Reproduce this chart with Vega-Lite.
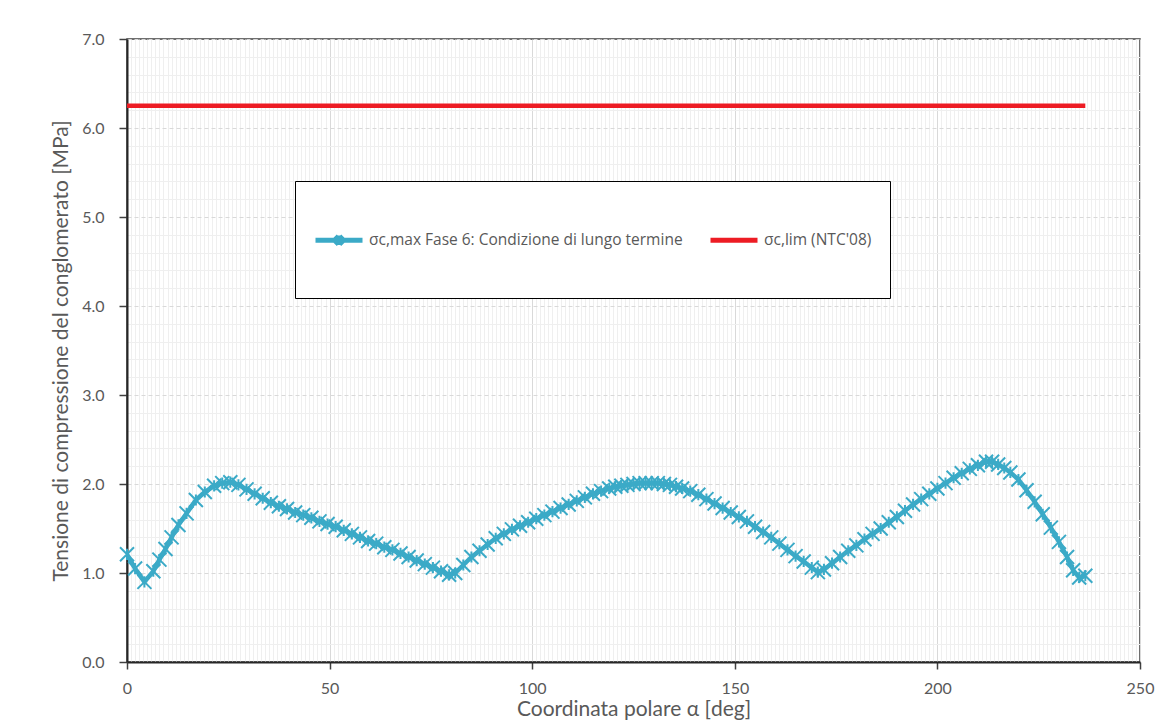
{
  "$schema": "https://vega.github.io/schema/vega-lite/v6.json",
  "width": 1013,
  "height": 623,
  "autosize": {"type": "none"},
  "padding": {"left": 127, "top": 39, "right": 25, "bottom": 62},
  "background": "#ffffff",
  "config": {"view": {"stroke": "#404040", "strokeWidth": 1.5}, "font": "Lato"},
  "datasets": {
    "sigma": [
      {"a":0,"s":1.21},{"a":2,"s":1.05},{"a":4.3,"s":0.9},{"a":6.5,"s":1.02},{"a":8,"s":1.15},{"a":9.5,"s":1.27},{"a":11,"s":1.4},{"a":12.7,"s":1.54},{"a":14.7,"s":1.67},{"a":17,"s":1.82},{"a":19.2,"s":1.91},{"a":21.5,"s":1.98},{"a":23.5,"s":2.01},{"a":25.5,"s":2.02},{"a":27.5,"s":1.99},{"a":29.5,"s":1.94},{"a":31.5,"s":1.89},{"a":33.5,"s":1.84},{"a":35.5,"s":1.79},{"a":37.5,"s":1.75},{"a":39.5,"s":1.72},{"a":41.5,"s":1.68},{"a":43.5,"s":1.65},{"a":45.5,"s":1.62},{"a":47.5,"s":1.58},{"a":49.5,"s":1.55},{"a":51.5,"s":1.52},{"a":53.5,"s":1.48},{"a":55.5,"s":1.44},{"a":57.5,"s":1.4},{"a":59.5,"s":1.36},{"a":61.5,"s":1.33},{"a":63.5,"s":1.29},{"a":65.5,"s":1.26},{"a":67.5,"s":1.22},{"a":69.5,"s":1.18},{"a":71.5,"s":1.14},{"a":73.5,"s":1.1},{"a":75.5,"s":1.06},{"a":77.5,"s":1.02},{"a":79.5,"s":0.98},{"a":81,"s":1.0},{"a":83,"s":1.09},{"a":85,"s":1.18},{"a":87,"s":1.25},{"a":89,"s":1.32},{"a":91,"s":1.39},{"a":93,"s":1.44},{"a":95,"s":1.49},{"a":97,"s":1.53},{"a":99,"s":1.57},{"a":101,"s":1.61},{"a":103,"s":1.65},{"a":105,"s":1.69},{"a":107,"s":1.73},{"a":109,"s":1.77},{"a":111,"s":1.81},{"a":113,"s":1.85},{"a":115,"s":1.89},{"a":117,"s":1.92},{"a":119,"s":1.95},{"a":120.5,"s":1.97},{"a":122,"s":1.98},{"a":123.5,"s":1.99},{"a":125,"s":2.0},{"a":126.5,"s":2.01},{"a":128,"s":2.01},{"a":129.5,"s":2.01},{"a":131,"s":2.01},{"a":132.5,"s":2.0},{"a":134,"s":1.99},{"a":135.5,"s":1.97},{"a":137,"s":1.95},{"a":139,"s":1.92},{"a":141,"s":1.88},{"a":143,"s":1.83},{"a":145,"s":1.78},{"a":147,"s":1.73},{"a":149,"s":1.68},{"a":151,"s":1.63},{"a":153,"s":1.58},{"a":155,"s":1.52},{"a":157,"s":1.46},{"a":159,"s":1.4},{"a":161,"s":1.33},{"a":163,"s":1.26},{"a":165,"s":1.19},{"a":167,"s":1.13},{"a":169,"s":1.06},{"a":170.5,"s":1.01},{"a":172,"s":1.04},{"a":174,"s":1.11},{"a":176,"s":1.18},{"a":178,"s":1.25},{"a":180,"s":1.31},{"a":182,"s":1.38},{"a":184,"s":1.44},{"a":186,"s":1.5},{"a":188,"s":1.57},{"a":190,"s":1.63},{"a":192,"s":1.7},{"a":194,"s":1.77},{"a":196,"s":1.83},{"a":198,"s":1.89},{"a":200,"s":1.95},{"a":202,"s":2.01},{"a":204,"s":2.07},{"a":206,"s":2.12},{"a":208,"s":2.17},{"a":210,"s":2.21},{"a":212,"s":2.25},{"a":213.5,"s":2.25},{"a":215,"s":2.22},{"a":216.5,"s":2.18},{"a":218,"s":2.13},{"a":220,"s":2.05},{"a":222,"s":1.93},{"a":224,"s":1.8},{"a":226,"s":1.66},{"a":228,"s":1.51},{"a":230,"s":1.35},{"a":232,"s":1.18},{"a":233.5,"s":1.03},{"a":235,"s":0.95},{"a":236.5,"s":0.97}
    ],
    "lim": [{"a":0,"s":6.25},{"a":236.5,"s":6.25}]
  },
  "encoding": {
    "x": {
      "field": "a", "type": "quantitative",
      "scale": {"domain": [0, 250], "nice": false},
      "axis": {
        "title": "Coordinata polare α [deg]",
        "tickCount": 250,
        "labelExpr": "datum.value % 50 === 0 ? datum.label : ''",
        "labelOverlap": false,
        "labelFlush": false,
        "grid": true,
        "gridColor": {"condition": {"test": "datum.value % 50 === 0", "value": "#D9D9D9"}, "value": "#EFEFEF"},
        "gridWidth": 1,
        "tickOpacity": {"condition": {"test": "datum.value % 50 === 0", "value": 1}, "value": 0},
        "tickColor": "#404040", "tickSize": 7, "tickWidth": 1.5,
        "domainColor": "#262626", "domainWidth": 2,
        "labelColor": "#595959", "labelFontSize": 16, "labelPadding": 11, "labelFont": "Lato",
        "titleColor": "#595959", "titleFontSize": 21, "titleFontWeight": "normal", "titleFont": "Lato", "titlePadding": 2
      }
    },
    "y": {
      "field": "s", "type": "quantitative",
      "scale": {"domain": [0, 7], "nice": false},
      "axis": {
        "title": "Tensione di compressione del conglomerato [MPa]",
        "tickCount": 35,
        "format": ".1f",
        "labelExpr": "abs(datum.value - round(datum.value)) < 0.001 ? datum.label : ''",
        "labelOverlap": false,
        "labelFlush": false,
        "grid": true,
        "gridColor": {"condition": {"test": "abs(datum.value - round(datum.value)) < 0.001", "value": "#D9D9D9"}, "value": "#EFEFEF"},
        "gridDash": {"condition": {"test": "abs(datum.value - round(datum.value)) < 0.001", "value": [4, 3]}, "value": []},
        "gridWidth": 1,
        "tickOpacity": {"condition": {"test": "abs(datum.value - round(datum.value)) < 0.001", "value": 1}, "value": 0},
        "tickColor": "#404040", "tickSize": 8, "tickWidth": 1.5,
        "domainColor": "#262626", "domainWidth": 2,
        "labelColor": "#595959", "labelFontSize": 16, "labelPadding": 15, "labelFont": "Lato",
        "titleColor": "#595959", "titleFontSize": 21, "titleFontWeight": "normal", "titleFont": "Lato", "titlePadding": 10
      }
    }
  },
  "layer": [
    {
      "data": {"name": "lim"},
      "mark": {"type": "line", "strokeWidth": 4.5},
      "encoding": {
        "color": {
          "datum": "σc,lim (NTC'08)",
          "type": "nominal",
          "scale": {"domain": ["σc,max Fase 6: Condizione di lungo termine", "σc,lim (NTC'08)"], "range": ["#3BAAC7", "#ED1C24"]},
          "legend": {
            "orient": "none", "legendX": 168, "legendY": 142,
            "direction": "horizontal", "title": null,
            "symbolSize": 2209, "symbolStrokeWidth": 5, "symbolType": "stroke",
            "labelFontSize": 15.5, "labelColor": "#595959", "labelFont": "Open Sans", "labelLimit": 600, "labelOffset": 4,
            "padding": 18, "strokeColor": "#000000", "fillColor": "#ffffff", "columnPadding": 17,
            "encode": {
              "symbols": {"update": {"y": {"value": 41}, "shape": {"signal": "datum.index === 0 ? 'M0,-1.6M-1,0L1,0M-0.17,-0.17L0.17,0.17M-0.17,0.17L0.17,-0.17M0,-0.2L0,0.2M0,1.26' : 'M0,-1.6M-1,0L1,0M0,1.26'"}}},
              "labels": {"update": {"y": {"value": 41}}}
            }
          }
        }
      }
    },
    {
      "data": {"name": "sigma"},
      "mark": {"type": "line", "strokeWidth": 4.5, "strokeJoin": "round"},
      "encoding": {
        "color": {"datum": "σc,max Fase 6: Condizione di lungo termine", "type": "nominal"}
      }
    },
    {
      "data": {"name": "sigma"},
      "mark": {"type": "point", "shape": "M-1,-1L1,1M-1,1L1,-1M0,-0.8L0,0.8", "filled": false, "color": "#3BAAC7", "strokeWidth": 2, "size": 196, "opacity": 1},
      "encoding": {}
    }
  ]
}
